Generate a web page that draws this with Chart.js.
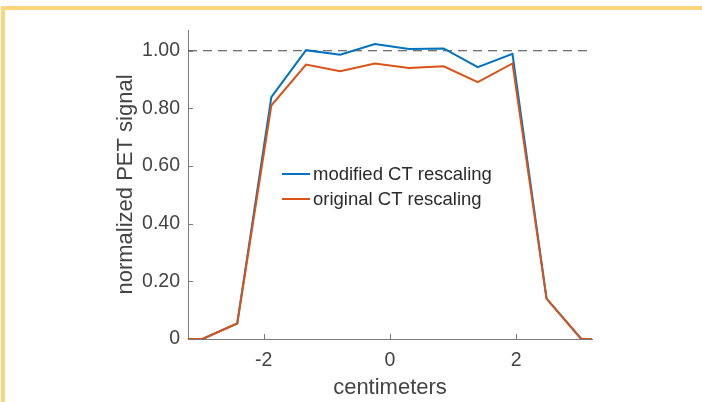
<!DOCTYPE html>
<html>
<head>
<meta charset="utf-8">
<script src="https://cdn.jsdelivr.net/npm/chart.js@4"></script>
<style>
  body { margin: 0; background: #fff; }
  #frame { position: absolute; left: 1px; top: 6px; width: 701px; height: 396px;
           border-top: 4px solid #fdd57c; border-left: 4px solid #fdd57c; box-sizing: border-box; }
  #wrap { position: absolute; left: 0; top: 0; width: 702px; height: 402px; }
</style>
</head>
<body>
<div id="frame"></div>
<div id="wrap"><canvas id="myChart" width="702" height="402"></canvas></div>
<script>
// datos
const centimeters = [-3.51, -2.97, -2.42, -1.88, -1.33, -0.79, -0.24, 0.30, 0.85, 1.39, 1.94, 2.48, 3.03, 3.57];
const modifiedCT = [0, 0, 0.054, 0.839, 1.002, 0.986, 1.023, 1.006, 1.008, 0.943, 0.989, 0.140, 0, 0];
const originalCT = [0, 0, 0.054, 0.810, 0.952, 0.929, 0.956, 0.940, 0.946, 0.891, 0.956, 0.140, 0, 0];
const referenceX = [-3.2, 3.2];
const referenceY = [1, 1];
const yTicks = [0, 0.2, 0.4, 0.6, 0.8, 1.0];
const xTicks = [-2, 0, 2];
const seriesNames = ['modified CT rescaling', 'original CT rescaling'];

const toPoints = (xs, ys) => xs.map((x, i) => ({ x: x, y: ys[i] }));
const FONT = '"Liberation Sans", Arial, sans-serif';

/* ticks hacia dentro, como en matlab */
const inwardTicks = {
  id: 'inwardTicks',
  afterDraw(chart) {
    const c = chart.ctx, a = chart.chartArea;
    const xs = chart.scales.x, ys = chart.scales.y;
    c.save();
    c.strokeStyle = '#7a7a7a';
    c.lineWidth = 1;
    c.beginPath();
    ys.ticks.forEach(t => {
      const py = Math.round(ys.getPixelForValue(t.value)) + 0.5;
      c.moveTo(a.left, py); c.lineTo(a.left + 5, py);
    });
    xs.ticks.forEach(t => {
      const px = Math.round(xs.getPixelForValue(t.value)) + 0.5;
      c.moveTo(px, a.bottom); c.lineTo(px, a.bottom - 5);
    });
    c.stroke();
    c.restore();
  }
};

/* leyenda dentro del area */
const insideLegend = {
  id: 'insideLegend',
  afterDraw(chart) {
    const c = chart.ctx;
    const rows = [
      { label: seriesNames[0], color: '#0072bd', y: 174 },
      { label: seriesNames[1], color: '#d95319', y: 199 }
    ];
    c.save();
    c.font = '18.5px ' + FONT;
    c.textBaseline = 'middle';
    c.textAlign = 'left';
    rows.forEach(r => {
      c.strokeStyle = r.color;
      c.lineWidth = 2;
      c.beginPath();
      c.moveTo(282, r.y); c.lineTo(310, r.y);
      c.stroke();
      c.fillStyle = '#2b2b2b';
      c.fillText(r.label, 313, r.y + 1);
    });
    c.restore();
  }
};

const ctx = document.getElementById('myChart').getContext('2d');

let chart = new Chart(ctx, {
  type: 'line',
  data: {
    datasets: [
      {
        label: seriesNames[1],
        data: toPoints(centimeters, originalCT),
        borderColor: '#d95319',
        borderWidth: 2,
        pointRadius: 0,
        tension: 0,
        order: 0
      },
      {
        label: seriesNames[0],
        data: toPoints(centimeters, modifiedCT),
        borderColor: '#0072bd',
        borderWidth: 2,
        pointRadius: 0,
        tension: 0,
        order: 1
      },
      {
        label: 'reference',
        data: toPoints(referenceX, referenceY),
        borderColor: '#444',
        borderWidth: 1,
        borderDash: [9, 6],
        pointRadius: 0,
        order: 2
      }
    ]
  },
  options: {
    responsive: false,
    animation: false,
    layout: { padding: { left: 110, right: 110, top: 30, bottom: 0 } },
    plugins: { legend: { display: false }, tooltip: { enabled: false } },
    scales: {
      x: {
        type: 'linear',
        min: -3.2,
        max: 3.2,
        afterBuildTicks: s => { s.ticks = xTicks.map(v => ({ value: v })); },
        afterFit: s => { s.height = 63; },
        grid: { display: false, drawTicks: false },
        border: { display: true, color: '#7a7a7a', width: 1 },
        ticks: {
          padding: 10,
          color: '#444',
          font: { family: FONT, size: 19.5 },
          callback: v => String(v)
        },
        title: {
          display: true,
          text: 'centimeters',
          color: '#444',
          font: { family: FONT, size: 22 },
          padding: { top: 0, bottom: 1 }
        }
      },
      y: {
        min: 0,
        max: 1.072,
        afterBuildTicks: s => { s.ticks = yTicks.map(v => ({ value: v })); },
        afterFit: s => { s.width = 78; },
        grid: { display: false, drawTicks: false },
        border: { display: true, color: '#7a7a7a', width: 1 },
        ticks: {
          padding: 8,
          color: '#444',
          font: { family: FONT, size: 19.5 },
          callback: v => (v === 0 ? '0' : v.toFixed(2))
        },
        title: {
          display: true,
          text: 'normalized PET signal',
          color: '#444',
          font: { family: FONT, size: 22 },
          padding: { top: 3, bottom: 0 }
        }
      }
    }
  },
  plugins: [inwardTicks, insideLegend]
});
</script>
</body>
</html>
